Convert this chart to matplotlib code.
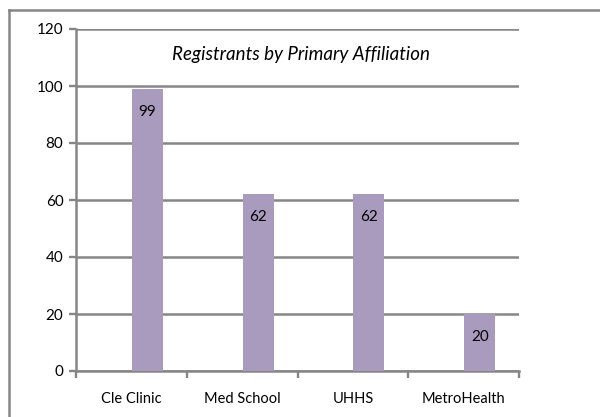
import numpy as np
import matplotlib.pyplot as plt
from matplotlib.lines import Line2D

# data
categories = ['Cle Clinic', 'Med School', 'UHHS', 'MetroHealth']
registrants = [99, 62, 62, 20]
title = 'Registrants by Primary Affiliation'

plt.rcParams['font.family'] = ['Lato', 'DejaVu Sans']

fig = plt.figure(figsize=(6, 4.17), dpi=100)
ax = fig.add_axes([76/600, 1-371/417, (519-76)/600, (371-29)/417])

grey = '#868686'
x = np.arange(len(categories))
bars = ax.bar(x + 0.145, registrants, width=0.28, color='#A99BBE', zorder=3)

for b, v in zip(bars, registrants):
    ax.annotate(str(v), (b.get_x() + b.get_width()/2, v), xytext=(0, -16.5),
                textcoords='offset points', ha='center', va='center',
                fontsize=11, color='black', zorder=4)

ax.set_xlim(-0.5, len(categories) - 0.5)
ax.set_ylim(0, 120)
ax.set_yticks(np.arange(0, 121, 20))
ax.set_xticks(x)
ax.set_xticklabels(categories, fontsize=10.5)
ax.set_xticks(np.arange(-0.5, len(categories)), minor=True)
ax.tick_params(axis='x', which='major', length=0, pad=15)
ax.tick_params(axis='x', which='minor', length=5, width=1.7, color=grey)
ax.tick_params(axis='y', length=5, width=1.7, color=grey, labelsize=11, pad=4)

ax.grid(axis='y', color=grey, linewidth=1.8, zorder=0)
for s in ['top', 'right']:
    ax.spines[s].set_visible(False)
for s in ['left', 'bottom']:
    ax.spines[s].set_color(grey)
    ax.spines[s].set_linewidth(1.8)

ax.text(0.508, 0.924, title, transform=ax.transAxes, ha='center', va='center',
        fontsize=13.5, style='italic')

# outer chart border
fig.add_artist(Line2D([9/600, 9/600], [0, 1-10/417], transform=fig.transFigure,
                      color=grey, linewidth=1.8))
fig.add_artist(Line2D([9/600, 1], [1-10/417, 1-10/417], transform=fig.transFigure,
                      color=grey, linewidth=1.8))

fig.savefig('out.png', dpi=100)
